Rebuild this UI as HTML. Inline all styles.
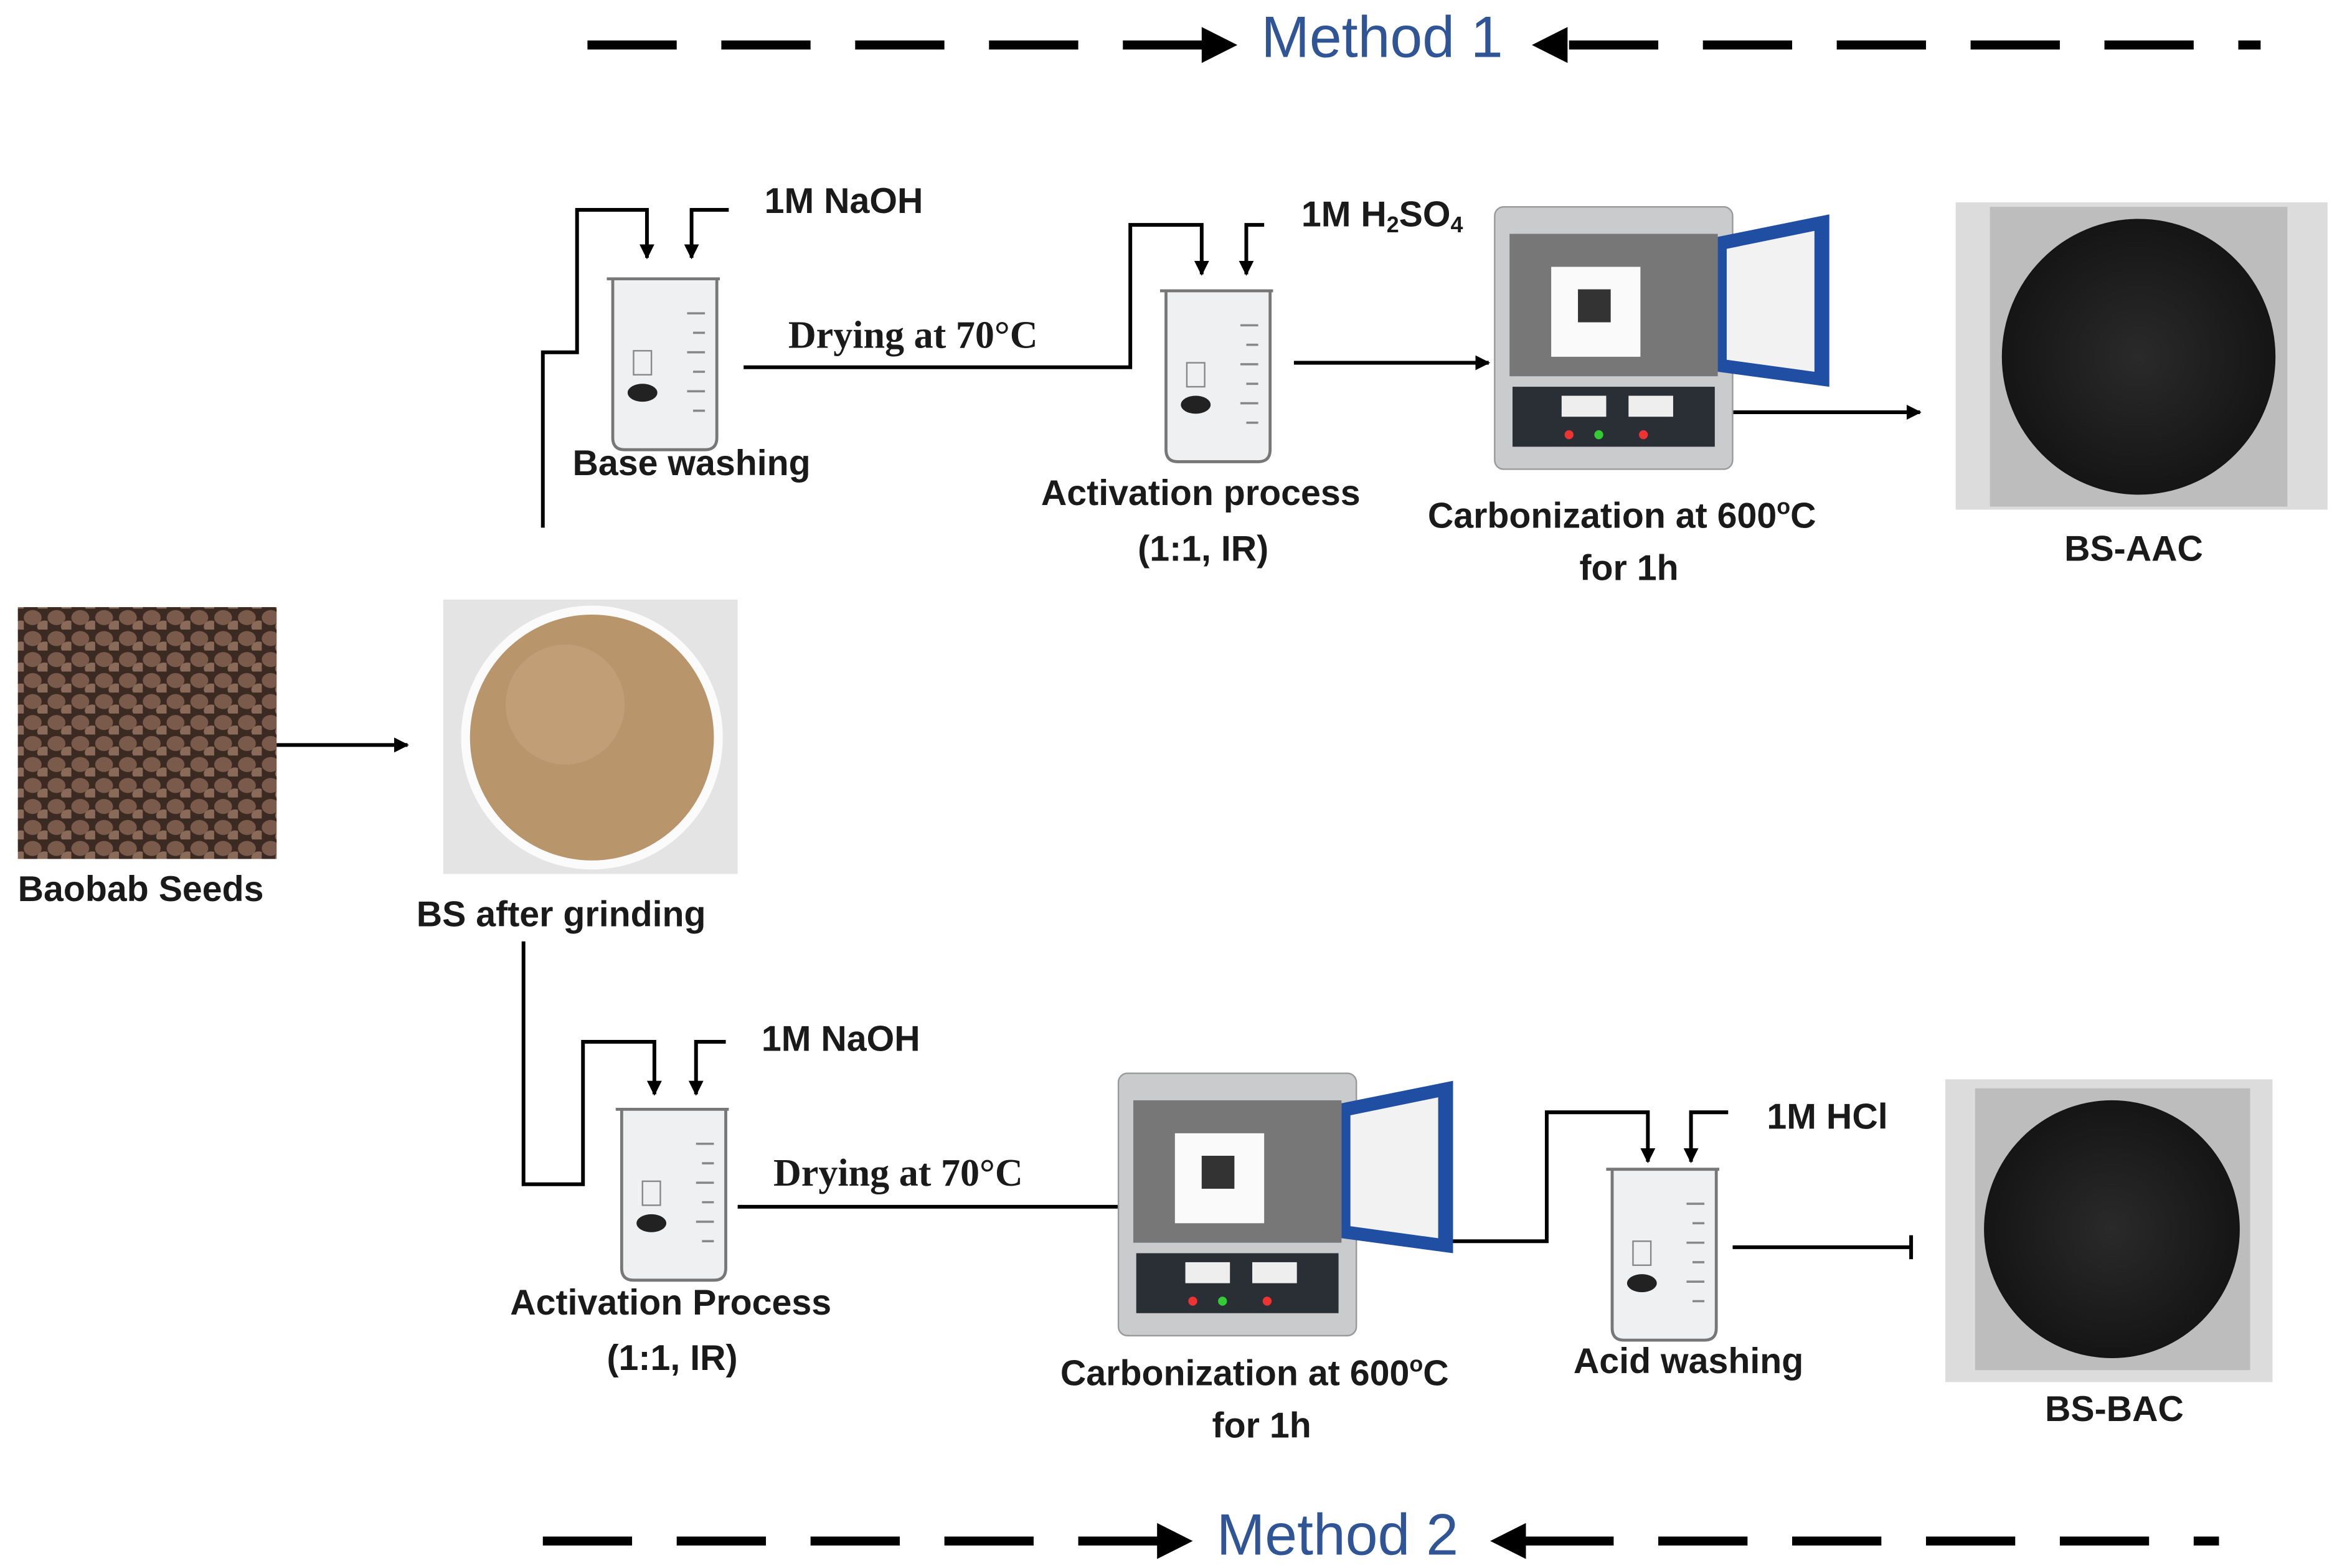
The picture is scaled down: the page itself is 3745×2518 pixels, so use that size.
<!DOCTYPE html>
<html><head><meta charset="utf-8"><style>
html,body{margin:0;padding:0;background:#fff;}
svg{display:block;}
.l{font-family:"Liberation Sans",sans-serif;font-weight:bold;font-size:24px;fill:#1a1a1a;}
.s{font-family:"Liberation Serif",serif;font-weight:bold;font-size:26px;fill:#1a1a1a;}
.m{font-family:"Liberation Sans",sans-serif;font-size:39px;fill:#2F5597;}
</style></head><body>
<svg width="3745" height="2518" viewBox="0 0 1568 1046" preserveAspectRatio="none" xmlns="http://www.w3.org/2000/svg">
<defs>
<marker id="a" markerWidth="10" markerHeight="10" refX="9" refY="5" orient="auto" markerUnits="userSpaceOnUse"><path d="M0,0 L10,5 L0,10 z" fill="#000"/></marker>
<pattern id="seed" width="16" height="14" patternUnits="userSpaceOnUse">
<rect width="16" height="14" fill="#3a2a22"/>
<ellipse cx="6" cy="6" rx="6" ry="5" fill="#7a5a4a"/>
<ellipse cx="14" cy="12" rx="5" ry="4" fill="#8a6a58"/>
</pattern>
<radialGradient id="blk"><stop offset="0" stop-color="#2a2a2a"/><stop offset="1" stop-color="#151515"/></radialGradient>
<g id="beaker">
<rect x="0" y="0" width="86" height="118" fill="#fff"/>
<path d="M4,2 L80,2 M8,2 L8,108 Q8,116 16,116 L70,116 Q78,116 78,108 L78,2" fill="#eef0f2" stroke="#777" stroke-width="2"/>
<g stroke="#888" stroke-width="1.5"><line x1="58" y1="25" x2="70" y2="25"/><line x1="62" y1="38" x2="70" y2="38"/><line x1="58" y1="51" x2="70" y2="51"/><line x1="62" y1="64" x2="70" y2="64"/><line x1="58" y1="77" x2="70" y2="77"/><line x1="62" y1="90" x2="70" y2="90"/></g>
<ellipse cx="28" cy="78" rx="10" ry="6" fill="#222"/>
<rect x="22" y="50" width="12" height="16" fill="none" stroke="#888"/>
</g>
<g id="furn">
<rect x="0" y="0" width="160" height="175" rx="6" fill="#c9cbcd" stroke="#999"/>
<rect x="10" y="18" width="140" height="95" fill="#777"/>
<rect x="38" y="40" width="60" height="60" fill="#fafafa"/>
<rect x="56" y="55" width="22" height="22" fill="#333"/>
<rect x="12" y="120" width="136" height="40" fill="#2a2f36"/>
<rect x="45" y="126" width="30" height="14" fill="#eee"/><rect x="90" y="126" width="30" height="14" fill="#eee"/>
<circle cx="50" cy="152" r="3" fill="#e33"/><circle cx="70" cy="152" r="3" fill="#3c3"/><circle cx="100" cy="152" r="3" fill="#e33"/>
<polygon points="150,20 225,5 225,120 150,110" fill="#1f4ea3"/>
<polygon points="156,28 215,16 215,110 156,102" fill="#f2f2f2"/>
</g>
</defs>
<g stroke="#000" stroke-width="6" stroke-dasharray="60,30">
<line x1="395" y1="30" x2="820" y2="30"/><line x1="1055" y1="30" x2="1520" y2="30"/>
<line x1="365" y1="1028" x2="790" y2="1028"/><line x1="1025" y1="1028" x2="1492" y2="1028"/>
</g>
<path d="M808,18 L832,30 L808,42z M1054,18 L1030,30 L1054,42z M778,1016 L802,1028 L778,1040z M1026,1016 L1002,1028 L1026,1040z" fill="#000"/>
<text class="m" x="848" y="38">Method 1</text>
<text class="m" x="818" y="1037">Method 2</text>
<rect x="12" y="405" width="174" height="168" fill="url(#seed)"/>
<text class="l" x="12" y="601">Baobab Seeds</text>
<line x1="186" y1="497" x2="274" y2="497" stroke="#000" stroke-width="2.5" marker-end="url(#a)"/>
<rect x="298" y="400" width="198" height="183" fill="#e4e4e4"/>
<circle cx="398" cy="492" r="88" fill="#fbfbfb"/><circle cx="398" cy="492" r="82" fill="#b8956a"/>
<circle cx="380" cy="470" r="40" fill="#c4a37a" opacity=".7"/>
<text class="l" x="280" y="618">BS after grinding</text>
<g fill="none" stroke="#000" stroke-width="2.5">
<path d="M365,352 V235 H388 V140 H435 V172" marker-end="url(#a)"/>
<path d="M490,140 H465 V172" marker-end="url(#a)"/>
<path d="M500,245 H760 V150 H808 V183" marker-end="url(#a)"/>
<path d="M850,150 H838 V183" marker-end="url(#a)"/>
<path d="M870,242 H1001" marker-end="url(#a)"/>
<path d="M1165,275 H1291" marker-end="url(#a)"/>
</g>
<text class="l" x="514" y="142">1M NaOH</text>
<use href="#beaker" x="404" y="184"/>
<text class="l" x="385" y="317">Base washing</text>
<text class="s" x="530" y="232">Drying at 70°C</text>
<text class="l" x="875" y="151">1M H<tspan font-size="15" dy="4">2</tspan><tspan dy="-4">SO</tspan><tspan font-size="15" dy="4">4</tspan></text>
<use href="#beaker" x="776" y="192"/>
<text class="l" x="700" y="337">Activation process</text>
<text class="l" x="765" y="374">(1:1, IR)</text>
<use href="#furn" x="1005" y="138"/>
<text class="l" x="960" y="352">Carbonization at 600<tspan font-size="15" dy="-9">o</tspan><tspan dy="9">C</tspan></text>
<text class="l" x="1062" y="387">for 1h</text>
<rect x="1315" y="135" width="250" height="205" fill="#dcdcdc"/>
<rect x="1338" y="138" width="200" height="200" fill="#bdbdbd"/>
<circle cx="1438" cy="238" r="92" fill="url(#blk)"/>
<text class="l" x="1388" y="374">BS-AAC</text>
<g fill="none" stroke="#000" stroke-width="2.5">
<path d="M352,628 V790 H392 V695 H440 V730" marker-end="url(#a)"/>
<path d="M488,695 H468 V730" marker-end="url(#a)"/>
<path d="M490,805 H755"/>
<path d="M975,828 H1040 V742 H1108 V775" marker-end="url(#a)"/>
<path d="M1162,742 H1137 V775" marker-end="url(#a)"/>
<path d="M1165,832 H1285 M1285,824 V840"/>
</g>
<text class="l" x="512" y="701">1M NaOH</text>
<use href="#beaker" x="410" y="738"/>
<text class="l" x="343" y="877">Activation Process</text>
<text class="l" x="408" y="914">(1:1, IR)</text>
<text class="s" x="520" y="791">Drying at 70°C</text>
<use href="#furn" x="752" y="716"/>
<text class="l" x="713" y="924">Carbonization at 600<tspan font-size="15" dy="-9">o</tspan><tspan dy="9">C</tspan></text>
<text class="l" x="815" y="959">for 1h</text>
<text class="l" x="1188" y="753">1M HCl</text>
<use href="#beaker" x="1076" y="778"/>
<text class="l" x="1058" y="916">Acid washing</text>
<rect x="1308" y="720" width="220" height="202" fill="#dcdcdc"/>
<rect x="1328" y="726" width="185" height="188" fill="#bdbdbd"/>
<circle cx="1420" cy="820" r="86" fill="url(#blk)"/>
<text class="l" x="1375" y="948">BS-BAC</text>
</svg>
</body></html>
